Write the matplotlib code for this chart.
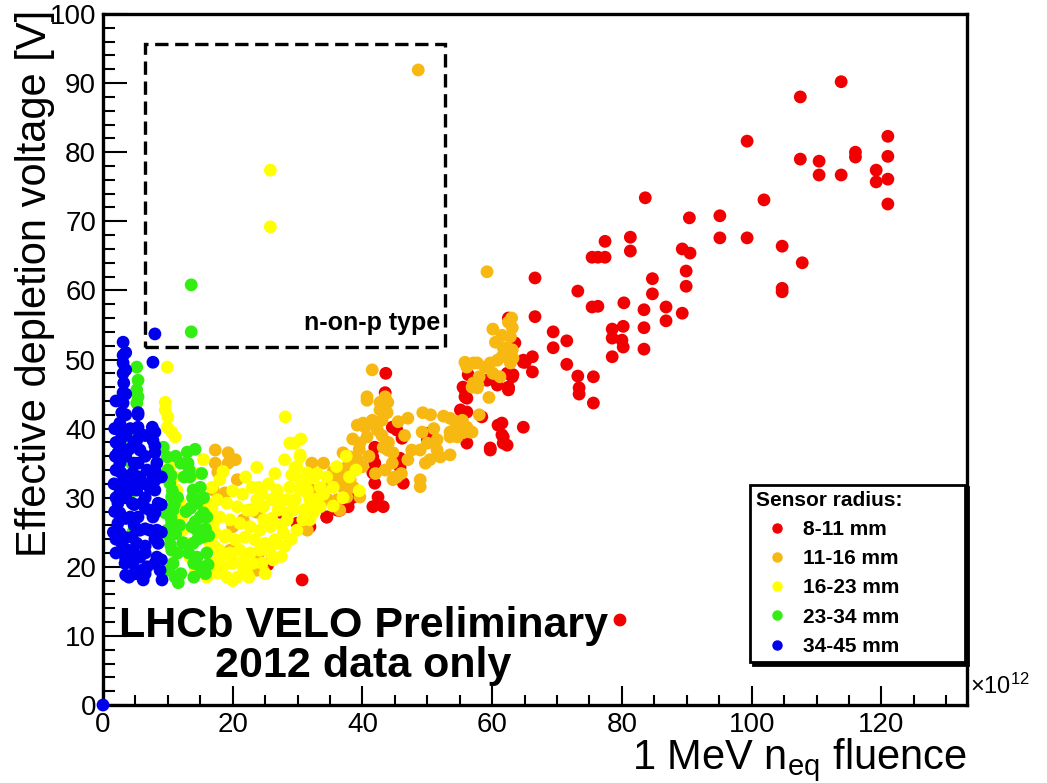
import matplotlib
matplotlib.use("Agg")
import matplotlib.pyplot as plt
from matplotlib.lines import Line2D
from matplotlib.patches import Rectangle
from matplotlib.ticker import MultipleLocator

plt.rcParams['font.family'] = ['Liberation Sans', 'DejaVu Sans']
plt.rcParams['mathtext.fontset'] = 'custom'
plt.rcParams['mathtext.rm'] = 'Liberation Sans'
plt.rcParams['mathtext.it'] = 'Liberation Sans:italic'
plt.rcParams['mathtext.bf'] = 'Liberation Sans:bold'

# ---------------- data (fluence in 1e12, voltage in V) ----------------
series_labels = ["8-11 mm", "11-16 mm", "16-23 mm", "23-34 mm", "34-45 mm"]
series_colors = ["#f00000", "#f8b812", "#ffff00", "#33ee11", "#0000ee"]

red_x = [77.4, 81.3, 81.3, 75.4, 76.3, 77.4, 89.3, 90.5, 89.9, 89.9, 66.6, 66.6,
         73.2, 75.4, 76.3, 80.3, 84.7, 84.7, 83.4, 86.8, 86.8, 89.3, 83.4, 83.4,
         78.5, 78.5, 80.2, 80.0, 80.2, 78.5, 69.4, 71.5, 69.4, 71.5, 73.2, 75.6,
         73.4, 73.4, 75.6, 66.2, 66.2, 64.8, 63.2, 62.5, 62.5, 64.8, 61.5, 61.7, 61.7,
         113.8, 107.5, 99.3, 107.5, 110.4, 110.4, 113.8, 116.0, 116.0, 119.2, 119.2,
         121.0, 121.0, 121.0, 121.0, 101.9, 95.1, 95.1, 99.3, 104.7, 107.8, 104.7,
         104.7, 83.6, 90.4,
         43.6, 43.5, 44.6, 45.3, 46.1, 41.9, 41.6, 41.9, 41.6, 41.9, 42.4, 43.2,
         41.6, 45.8, 45.8, 46.3, 50.4, 50.0, 37.8, 36.5, 55.1, 56.1, 56.1, 58.4,
         59.7, 60.9, 61.5, 62.3, 55.8, 56.1, 59.2, 60.8, 62.5, 62.3, 63.1, 63.5,
         65.1, 56.3, 62.5, 64.8, 59.7, 55.5, 55.8,
         25.4, 30.7, 30.4, 31.5, 34.5, 36.5, 23.7, 79.7, 29.9, 31.9, 34.5, 36.1,
         37.8, 38.6, 27.3]
red_y = [67.1, 67.7, 65.7, 64.8, 64.8, 64.8, 66.0, 65.4, 62.8, 60.6, 61.8, 56.2,
         59.9, 57.6, 57.7, 58.2, 61.7, 59.5, 57.2, 57.6, 55.6, 56.7, 54.6, 51.5,
         54.4, 53.1, 54.8, 52.8, 51.8, 50.4, 54.0, 52.7, 51.7, 49.3, 47.6, 47.5,
         45.9, 45.0, 43.7, 50.4, 48.2, 49.6, 47.8, 46.0, 45.6, 40.2, 40.8, 38.8, 37.9,
         90.2, 88.0, 81.6, 79.0, 78.7, 76.7, 76.7, 80.0, 79.3, 77.4, 75.7,
         82.3, 79.4, 76.1, 72.5, 73.1, 70.8, 67.6, 67.6, 66.4, 64.0, 60.3,
         59.8, 73.4, 70.5,
         48.0, 45.2, 40.2, 39.8, 38.6, 37.3, 35.9, 35.0, 33.6, 32.1, 30.1, 28.7,
         28.7, 35.7, 34.4, 32.1, 39.4, 38.4, 29.4, 28.2, 42.7, 42.4, 37.9, 41.7,
         37.2, 40.5, 39.1, 37.6, 45.6, 44.4, 47.0, 46.3, 45.9, 48.0, 47.5, 52.4,
         49.6, 47.8, 56.0, 49.9, 36.9, 46.0, 44.6,
         20.3, 18.1, 26.0, 26.2, 27.2, 28.2, 20.5, 12.3, 26.3, 25.8, 27.2, 28.2,
         28.7, 30.1, 27.9]

orange_x = [59.2, 60.1, 62.5, 63.1, 62.8, 61.7, 63.1, 63.2, 62.8, 56.1, 57.7, 58.9,
            59.7, 60.8, 61.5, 56.9, 57.8, 54.3, 55.4, 56.1, 53.5, 54.6, 55.5, 56.9,
            49.3, 49.2, 50.0, 51.5, 51.5, 48.9, 47.6, 49.7, 50.4, 48.9, 48.9, 41.5,
            40.7, 42.7, 43.5, 43.9, 42.7, 43.8, 43.0, 39.2, 40.1, 41.5, 42.3, 40.7,
            39.6, 37.0, 38.1, 39.2, 37.6, 38.9, 36.5, 38.1, 36.1, 35.3, 38.6, 39.6,
            43.5, 44.6, 45.0, 44.7, 43.9, 43.2, 44.7, 45.3,
            52.0, 53.5, 55.8, 57.1, 62.3, 60.1, 61.2, 57.1, 57.7, 53.5, 56.6, 54.6,
            53.5, 17.3, 19.3, 20.4, 17.3, 17.7, 19.3, 20.7, 17.0, 18.8, 32.2, 32.2,
            22.7, 23.7, 26.1, 21.6, 20.0, 19.6, 23.9, 23.1, 23.7, 24.7, 31.5, 35.0,
            36.1, 34.7, 36.1, 37.6, 36.5, 40.7, 40.4, 41.5, 22.7, 48.6,
            38.5, 41.0, 40.0, 37.0, 35.5, 34.0, 33.0, 42.0, 44.0, 43.0, 39.5, 46.5,
            47.0, 45.5, 51.0, 52.5, 50.5, 58.0, 59.5, 58.0, 60.5, 61.5, 63.0, 62.0,
            47.0, 46.0]
orange_y = [62.7, 54.4, 55.4, 54.6, 53.3, 51.7, 51.4, 50.2, 49.5, 48.9, 49.5, 48.9,
            49.5, 49.9, 50.4, 46.0, 46.3, 41.0, 41.2, 40.2, 39.5, 38.8, 39.4, 39.5,
            42.3, 39.5, 37.9, 38.4, 36.9, 36.9, 36.9, 35.0, 35.5, 32.6, 31.6, 48.5,
            44.6, 43.8, 44.6, 43.8, 42.7, 42.3, 41.2, 40.5, 40.8, 41.2, 39.8, 38.8,
            37.9, 36.5, 35.9, 35.5, 34.4, 34.3, 33.0, 32.6, 32.1, 32.6, 31.5, 30.1,
            34.0, 35.0, 33.0, 36.5, 36.9, 37.3, 32.6, 33.0,
            35.9, 36.2, 49.6, 49.5, 51.7, 48.0, 47.5, 46.6, 45.9, 41.5, 39.5, 39.8,
            38.8, 36.9, 36.5, 35.5, 35.0, 33.7, 35.0, 32.6, 31.1, 30.7, 35.0, 31.1,
            28.2, 27.9, 29.7, 26.8, 25.8, 22.4, 21.4, 20.5, 19.5, 19.5, 25.3, 32.1,
            32.9, 29.7, 29.7, 30.1, 28.2, 44.1, 40.2, 40.8, 19.5, 91.9,
            38.5, 36.0, 34.5, 31.5, 33.8, 35.0, 31.0, 33.5, 38.0, 39.0, 37.0, 39.0,
            41.5, 41.0, 40.0, 41.8, 42.0, 42.0, 44.5, 47.5, 52.5, 53.5, 56.0, 51.0,
            35.5, 33.5]

yellow_x = [9.9, 9.6, 9.6, 10.0, 9.9, 10.6, 11.1, 10.3, 11.1, 11.4, 11.9, 12.2, 12.3,
            13.0, 13.4, 14.2, 16.0, 16.5, 16.0, 16.5, 17.0, 16.0, 28.1, 29.6, 30.4,
            29.9, 29.1, 31.5, 30.4, 31.9, 30.9, 26.8, 26.1, 28.4, 27.0, 23.7, 18.0,
            23.7, 24.7, 23.1,
            17.6, 19.1, 20.7, 22.2, 18.0, 19.6, 21.1, 22.7, 24.2, 25.8, 17.3, 18.8,
            20.4, 21.9, 23.4, 25.0, 26.5, 18.0, 19.6, 21.1, 22.7, 24.2, 25.8, 17.0,
            18.5, 20.0, 21.6, 23.1, 19.1, 20.7, 22.2, 17.6,
            27.3, 29.3, 30.8, 28.4, 27.8, 29.9, 26.8, 31.5, 32.7, 33.5, 32.4, 31.9,
            28.8, 30.4, 29.6, 31.5, 30.4, 28.8, 26.8, 27.3, 29.6, 31.5, 32.2, 28.4,
            38.0, 39.5, 37.0, 35.5, 34.0, 33.0, 25.8, 25.8,
            14.5, 15.5, 16.8, 18.5, 20.0, 21.5, 23.0, 24.5, 25.5, 22.0, 19.0, 24.8,
            26.0, 27.5, 26.2, 24.5, 21.8, 19.8, 18.0, 17.2, 17.0, 16.8, 28.0, 29.0,
            27.5, 25.0, 22.5, 20.0, 24.0, 26.5, 28.0, 30.5, 32.5, 33.5, 34.5, 36.0,
            37.5, 39.0, 35.5, 33.0]
yellow_y = [48.9, 43.8, 42.7, 41.7, 40.2, 39.5, 38.8, 34.4, 33.0, 31.1, 29.2, 27.2, 25.3,
            23.4, 21.4, 19.5, 29.2, 27.2, 25.3, 23.4, 20.5, 18.5, 41.7, 37.9, 36.2,
            34.4, 33.3, 32.6, 31.1, 29.7, 28.2, 31.1, 29.7, 29.7, 28.2, 34.4, 32.6,
            29.7, 28.7, 28.2,
            29.7, 29.2, 28.7, 28.2, 27.2, 26.8, 26.3, 25.8, 25.3, 25.8, 24.9, 24.3,
            23.9, 24.3, 23.9, 23.4, 23.9, 22.4, 22.0, 22.4, 22.0, 22.4, 22.0, 20.5,
            20.0, 20.5, 20.0, 20.5, 18.5, 18.5, 19.1, 19.1,
            29.2, 28.2, 26.8, 26.8, 24.9, 25.3, 23.4, 30.7, 29.7, 28.7, 27.8, 26.8,
            37.9, 35.9, 34.4, 33.6, 32.6, 31.5, 31.1, 29.7, 29.7, 31.1, 29.4, 27.8,
            33.0, 31.0, 30.0, 31.5, 30.5, 33.5, 77.4, 69.2,
            33.5, 35.5, 31.5, 33.8, 31.0, 30.5, 31.5, 30.5, 32.0, 33.0, 24.6, 26.8,
            27.0, 26.0, 21.0, 20.5, 21.2, 21.2, 21.5, 23.0, 26.3, 28.5, 23.0, 24.0,
            21.5, 19.0, 18.5, 18.0, 31.5, 33.5, 35.5, 38.5, 33.0, 31.5, 33.0, 34.5,
            36.0, 34.0, 28.8, 29.8]

green_x = [5.2, 5.4, 5.2, 5.4, 5.2, 4.4, 4.4, 4.6, 4.6, 9.3, 9.9, 10.0, 10.3, 10.6,
           10.8, 10.6, 10.3, 10.6, 10.8, 11.1, 11.6, 9.9, 9.6, 13.0, 13.1, 13.4,
           13.9, 14.5, 15.0, 14.5, 13.9, 14.5, 15.0, 16.0, 15.4, 13.7, 13.6, 13.6,
           11.5, 11.8, 11.5, 12.0, 11.2, 12.5, 15.5, 16.0, 15.8, 14.0, 12.8, 15.2,
           14.2, 13.5, 12.3, 15.8,
           10.2, 10.4, 10.5, 10.7, 10.5, 11.2, 11.0, 12.0, 13.3, 13.8, 14.2, 14.6,
           13.2, 14.0, 15.5, 16.3, 15.0, 16.2]
green_y = [48.9, 47.0, 45.6, 44.6, 43.7, 38.5, 35.0, 31.0, 25.0, 37.3, 35.9, 34.0,
           32.1, 30.1, 28.2, 26.3, 24.3, 22.4, 20.5, 18.5, 17.7, 25.3, 27.8, 36.6,
           35.0, 33.0, 31.1, 29.2, 27.2, 25.3, 23.4, 21.4, 20.0, 27.2, 24.3, 25.8,
           60.8, 54.0,
           30.0, 26.0, 22.0, 19.0, 36.0, 33.0, 30.0, 22.0, 19.0, 18.5, 28.0, 33.5,
           37.0, 28.5, 23.5, 25.5,
           19.5, 23.2, 27.0, 31.0, 33.2, 24.8, 29.0, 35.0, 34.0, 30.0, 26.5, 24.0,
           22.0, 20.5, 27.8, 24.5, 31.5, 20.3]

blue_x = [3.1, 3.1, 3.1, 3.1, 3.2, 3.1, 3.1, 2.9, 2.6, 2.8, 2.6, 2.3, 2.6, 2.8, 2.9,
          2.6, 2.3, 2.6, 2.3, 2.6, 2.9, 3.1, 3.4,
          5.4, 5.4, 5.2, 5.7, 5.4, 5.7, 5.2, 6.0, 5.4, 5.7, 5.2, 5.7, 6.0, 6.2, 5.4, 5.4,
          7.6, 7.7, 8.0, 8.3, 7.7, 8.0, 8.5, 7.7, 8.3, 8.5, 8.3, 8.8, 9.1, 7.2, 7.2,
          7.2, 4.2, 4.5, 3.9, 4.6, 4.6, 4.2, 4.5, 7.7, 8.0, 0.0,
          1.6, 1.8, 1.7, 1.9, 2.0, 1.8, 4.0, 5.0, 3.5, 6.8, 6.5, 6.8, 6.5, 4.0, 4.2,
          3.5, 3.5, 3.5, 3.5, 3.5, 3.5, 3.5, 3.5, 3.5, 3.5, 3.5,
          2.0, 2.0, 2.0, 2.0, 2.0,
          4.8, 4.8, 4.8, 4.8, 4.8, 4.8, 4.8,
          6.5, 6.5, 6.5, 6.5, 6.5, 6.5, 6.5,
          8.0, 8.0, 8.0, 8.0, 8.0, 8.0, 8.0,
          9.0, 9.0, 9.0, 9.0]
blue_y = [52.5, 50.6, 49.5, 48.0, 46.6, 45.2, 43.7, 42.3, 40.8, 39.4, 37.9, 36.5, 35.0,
          33.6, 32.1, 30.7, 29.2, 27.8, 26.3, 24.9, 23.4, 22.0, 20.5,
          42.3, 39.8, 38.3, 36.9, 35.0, 33.0, 31.1, 29.2, 27.2, 25.3, 23.4, 21.4, 19.5,
          18.1, 42.0, 40.2,
          40.2, 38.3, 36.5, 35.0, 33.0, 31.1, 29.2, 27.2, 25.3, 23.4, 21.4, 19.5, 18.1,
          31.5, 28.2, 25.3, 27.2, 24.3, 22.4, 20.5, 33.6, 31.1, 29.2, 49.6, 53.7, 0.0,
          25.0, 28.0, 32.0, 36.0, 22.0, 40.0, 18.5, 19.0, 18.8, 20.0, 23.0, 34.0, 30.0,
          37.0, 40.0,
          21.2, 24.2, 27.0, 30.0, 33.0, 36.0, 39.0, 42.0, 45.0, 48.5, 51.0,
          24.0, 30.0, 34.0, 38.0, 44.0,
          26.0, 29.0, 32.0, 35.0, 38.0, 22.0, 19.0,
          19.0, 22.0, 25.5, 28.5, 32.0, 36.0, 39.0,
          20.5, 24.0, 27.8, 32.5, 34.0, 37.5, 39.5,
          21.0, 25.0, 29.0, 33.0]

xs = [red_x, orange_x, yellow_x, green_x, blue_x]
ys = [red_y, orange_y, yellow_y, green_y, blue_y]

# ---------------- figure ----------------
fig = plt.figure(figsize=(10.47, 7.83), dpi=100)
ax = fig.add_axes([103 / 1047, 1 - 705 / 783, 864 / 1047, 691 / 783])

for x, y, c in zip(xs, ys, series_colors):
    ax.scatter(x, y, s=85, color=c, edgecolors='none', zorder=3, clip_on=False)

ax.set_xlim(0, 133.2)
ax.set_ylim(0, 100)
ax.xaxis.set_major_locator(MultipleLocator(20))
ax.xaxis.set_minor_locator(MultipleLocator(5))
ax.yaxis.set_major_locator(MultipleLocator(10))
ax.yaxis.set_minor_locator(MultipleLocator(2))
ax.tick_params(which='both', direction='in', top=False, right=False, width=1.5,
               labelsize=20)
ax.tick_params(axis='y', which='major', length=17, pad=5)
ax.tick_params(axis='y', which='minor', length=8.5)
ax.tick_params(axis='x', which='major', length=14, pad=5)
ax.tick_params(axis='x', which='minor', length=7)
for sp in ax.spines.values():
    sp.set_linewidth(2.4)

ax.set_ylabel("Effective depletion voltage [V]", fontsize=30, loc='top')
ax.yaxis.set_label_coords(-0.055, 1.006)
ax.set_xlabel(r"1 MeV n$_{\mathrm{eq}}$ fluence", fontsize=30, loc='right')
ax.xaxis.set_label_coords(1.0, -0.046)
ax.text(1.004, 0.027, r"$\times$10$^{12}$", transform=ax.transAxes, fontsize=17,
        ha='left', va='center')

# dashed n-on-p box
ax.add_patch(Rectangle((6.5, 51.8), 46.2, 43.9, fill=False, ec='black', lw=2.4,
                       ls=(0, (4, 2)), zorder=2))
ax.text(52.0, 55.3, "n-on-p type", fontsize=18, fontweight='bold', ha='right',
        va='center')

ax.text(40.1, 11.4, "LHCb VELO Preliminary", fontsize=31, fontweight='bold',
        ha='center', va='center')
ax.text(40.1, 5.6, "2012 data only", fontsize=31, fontweight='bold',
        ha='center', va='center')

handles = [Line2D([], [], marker='o', ls='', color=c, markersize=6.5)
           for c in series_colors]
leg = ax.legend(handles, series_labels, title="Sensor radius:",
                loc='lower left', bbox_to_anchor=(0.749, 0.062, 0.249, 0.25),
                mode='expand',
                prop={'weight': 'bold', 'size': 15},
                title_fontproperties={'weight': 'bold', 'size': 15},
                alignment='left', fancybox=False, framealpha=1,
                edgecolor='black', borderaxespad=0, borderpad=0.3,
                labelspacing=0.49, handlelength=2.0, handletextpad=0.24,
                shadow={'color': 'black', 'alpha': 1})
leg.get_frame().set_linewidth(2.0)
leg.set_zorder(5)

fig.savefig("out.png", dpi=100)
